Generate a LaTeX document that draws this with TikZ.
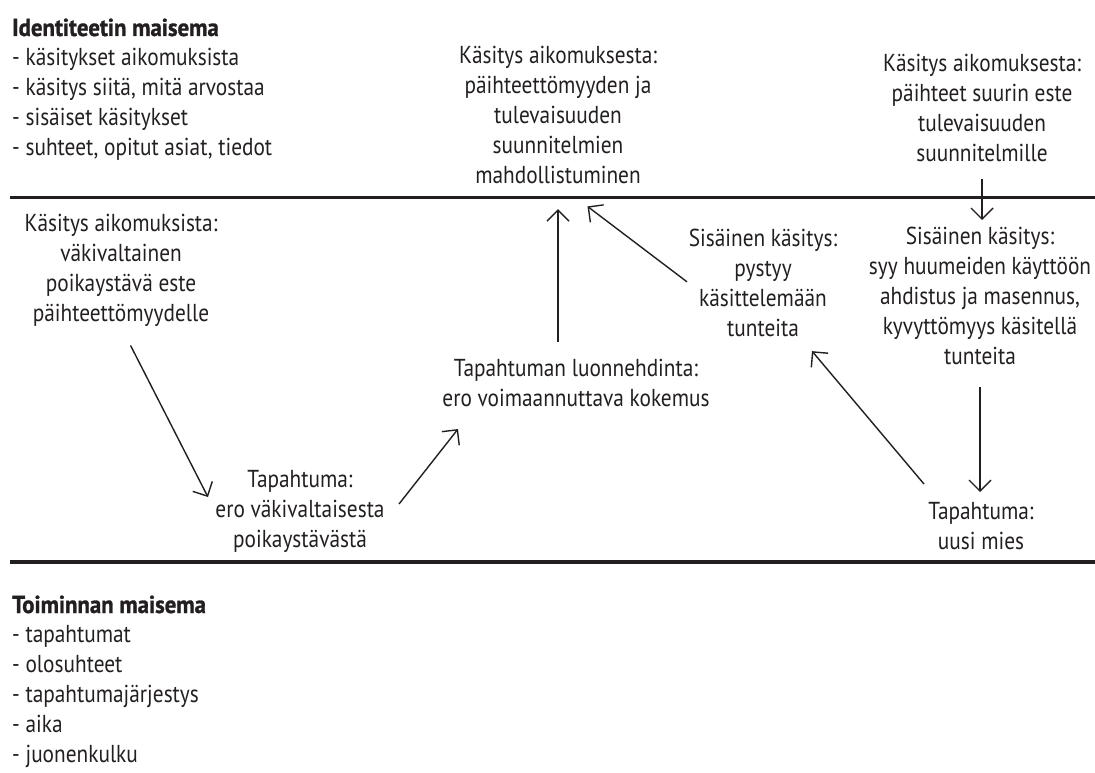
\documentclass[tikz,border=0pt]{standalone}
\usepackage{fontspec}
\setmainfont{PT Sans}[FakeStretch=0.87]
\newfontfamily\headfont{PT Sans Bold}[FakeStretch=0.93, FakeBold=1.2]
\usetikzlibrary{arrows.meta}
\definecolor{ink}{RGB}{35,31,32}
\tikzset{
	textnode/.style = {align=center, inner sep=0pt, anchor=north, text=ink, font=\fontsize{24.5}{30}\selectfont},
	listnode/.style = {textnode, align=left, anchor=north west},
	heading/.style = {inner sep=0pt, anchor=base west, text=ink, font=\headfont\fontsize{24.5}{30}\selectfont},
	landline/.style = {draw=ink, line width=3.5pt},
	arr/.style = {draw=ink, line width=1.4pt, -{Straight Barb[length=11pt, width=22pt]}}
}

\begin{document}
\begin{tikzpicture}[x=1pt, y=-1pt]
		\useasboundingbox (0,0) rectangle (1095,773);
		% the two landscapes
		\draw[landline] (10,197.5) -- (1095,197.5);
		\draw[landline] (10,562) -- (1095,562);
		\node [heading] (idhead) at (12,36) {Identiteetin maisema};
		\node [listnode] (idlist) at (12,48) {- käsitykset aikomuksista\\- käsitys siitä, mitä arvostaa\\- sisäiset käsitykset\\- suhteet, opitut asiat, tiedot};
		\node [heading] (acthead) at (12,613) {Toiminnan maisema};
		\node [listnode] (actlist) at (12,625) {- tapahtumat\\- olosuhteet\\- tapahtumajärjestys\\- aika\\- juonenkulku};
		% identity landscape
		\node [textnode] (intentA) at (558,46) {Käsitys aikomuksesta:\\päihteettömyyden ja\\tulevaisuuden\\suunnitelmien\\mahdollistuminen};
		\node [textnode] (intentB) at (982,54) {Käsitys aikomuksesta:\\päihteet suurin este\\tulevaisuuden\\suunnitelmille};
		\node [textnode] (intentC) at (121,214) {Käsitys aikomuksista:\\väkivaltainen\\poikaystävä este\\päihteettömyydelle};
		\node [textnode] (innerD) at (763,229) {Sisäinen käsitys:\\pystyy\\käsittelemään\\tunteita};
		\node [textnode] (innerE) at (980,227) {Sisäinen käsitys:\\syy huumeiden käyttöön\\ahdistus ja masennus,\\kyvyttömyys käsitellä\\tunteita};
		% action landscape
		\node [textnode] (charF) at (576,359) {Tapahtuman luonnehdinta:\\ero voimaannuttava kokemus};
		\node [textnode] (eventG) at (300,470) {Tapahtuma:\\ero väkivaltaisesta\\poikaystävästä};
		\node [textnode] (eventH) at (981,502) {Tapahtuma:\\uusi mies};
		% connections
		\draw[arr, shorten <=17pt, shorten >=25pt] (charF.north -| intentA.south) -- (intentA.south);
		\draw[arr, shorten <=2pt, shorten >=37pt] (innerD.west) -- (intentA.south);
		\draw[arr, shorten <=17pt, shorten >=7pt] (intentB.south) -- (intentB.south |- innerE.north);
		\draw[arr, shorten <=22pt, shorten >=10pt] (innerE.south) -- (innerE.south |- eventH.north);
		\draw[arr] ([xshift=-57pt,yshift=18pt]eventH.north) -- ([xshift=49pt,yshift=-14pt]innerD.south);
		\draw[arr, shorten <=21pt, shorten >=16pt] (intentC.south) -- (eventG.west);
		\draw[arr] ([xshift=99pt,yshift=-34pt]eventG.north) -- ([xshift=-118pt,yshift=-22pt]charF.south);
\end{tikzpicture}
\end{document}
